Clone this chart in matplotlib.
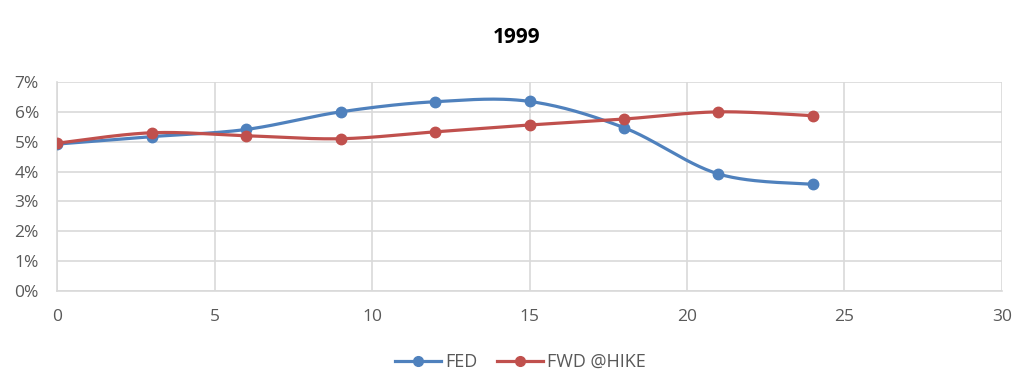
import numpy as np
import matplotlib
matplotlib.use('Agg')
import matplotlib.pyplot as plt
from matplotlib.ticker import FuncFormatter

# months since first hike
months = [0, 3, 6, 9, 12, 15, 18, 21, 24]
fed = [4.92, 5.17, 5.41, 6.00, 6.34, 6.35, 5.47, 3.92, 3.57]
fwd_hike = [4.95, 5.30, 5.20, 5.10, 5.33, 5.56, 5.76, 6.00, 5.87]

BLUE = '#4F81BD'
RED = '#C0504D'
GRID = '#D9D9D9'
TXT = '#595959'


def smooth(x, y, n=30):
    # catmull-rom through the points, like excel's "smoothed line"
    x = np.asarray(x, float)
    y = np.asarray(y, float)
    px = np.r_[x[0], x, x[-1]]
    py = np.r_[y[0], y, y[-1]]
    xs, ys = [], []
    for i in range(1, len(px) - 2):
        t = np.linspace(0, 1, n)
        for p, out in ((px, xs), (py, ys)):
            p0, p1, p2, p3 = p[i - 1], p[i], p[i + 1], p[i + 2]
            out.append(0.5 * ((2 * p1) + (-p0 + p2) * t
                              + (2 * p0 - 5 * p1 + 4 * p2 - p3) * t ** 2
                              + (-p0 + 3 * p1 - 3 * p2 + p3) * t ** 3))
    return np.concatenate(xs), np.concatenate(ys)


plt.rcParams['font.family'] = 'Open Sans'
fig = plt.figure(figsize=(10.24, 3.83), dpi=100)
ax = fig.add_axes([0.0557, 0.2402, 0.9228, 0.5457])

for y, col, lab in ((fed, BLUE, 'FED'), (fwd_hike, RED, 'FWD @HIKE')):
    sx, sy = smooth(months, y)
    ax.plot(sx, sy, color=col, lw=2.3, solid_capstyle='round', zorder=3)
    ax.plot(months, y, 'o', color=col, ms=7.5, zorder=4)
    ax.plot([], [], '-o', color=col, lw=2.3, ms=7, label=lab)

ax.set_xlim(0, 30)
ax.set_ylim(0, 7)
ax.set_xticks(np.arange(0, 31, 5))
ax.set_yticks(np.arange(0, 8, 1))
ax.yaxis.set_major_formatter(FuncFormatter(lambda v, p: f'{v:.0f}%'))
ax.grid(True, color=GRID, lw=1.2)
ax.set_axisbelow(True)
for s in ('top', 'right'):
    ax.spines[s].set_visible(False)
for s in ('left', 'bottom'):
    ax.spines[s].set_color(GRID)
    ax.spines[s].set_linewidth(1.2)
ax.tick_params(length=0, labelsize=12.5, colors=TXT)
ax.tick_params(axis='y', pad=13)
ax.tick_params(axis='x', pad=13)

fig.text(0.504, 0.903, '1999', ha='center', va='center', fontsize=15,
         fontweight='bold', color='black')
fig.legend(loc='center', bbox_to_anchor=(0.508, 0.055), ncol=2, frameon=False,
           fontsize=13, labelcolor=TXT, handlelength=2.55, columnspacing=1.1,
           handletextpad=0.2)

fig.savefig('out.png', dpi=100)
